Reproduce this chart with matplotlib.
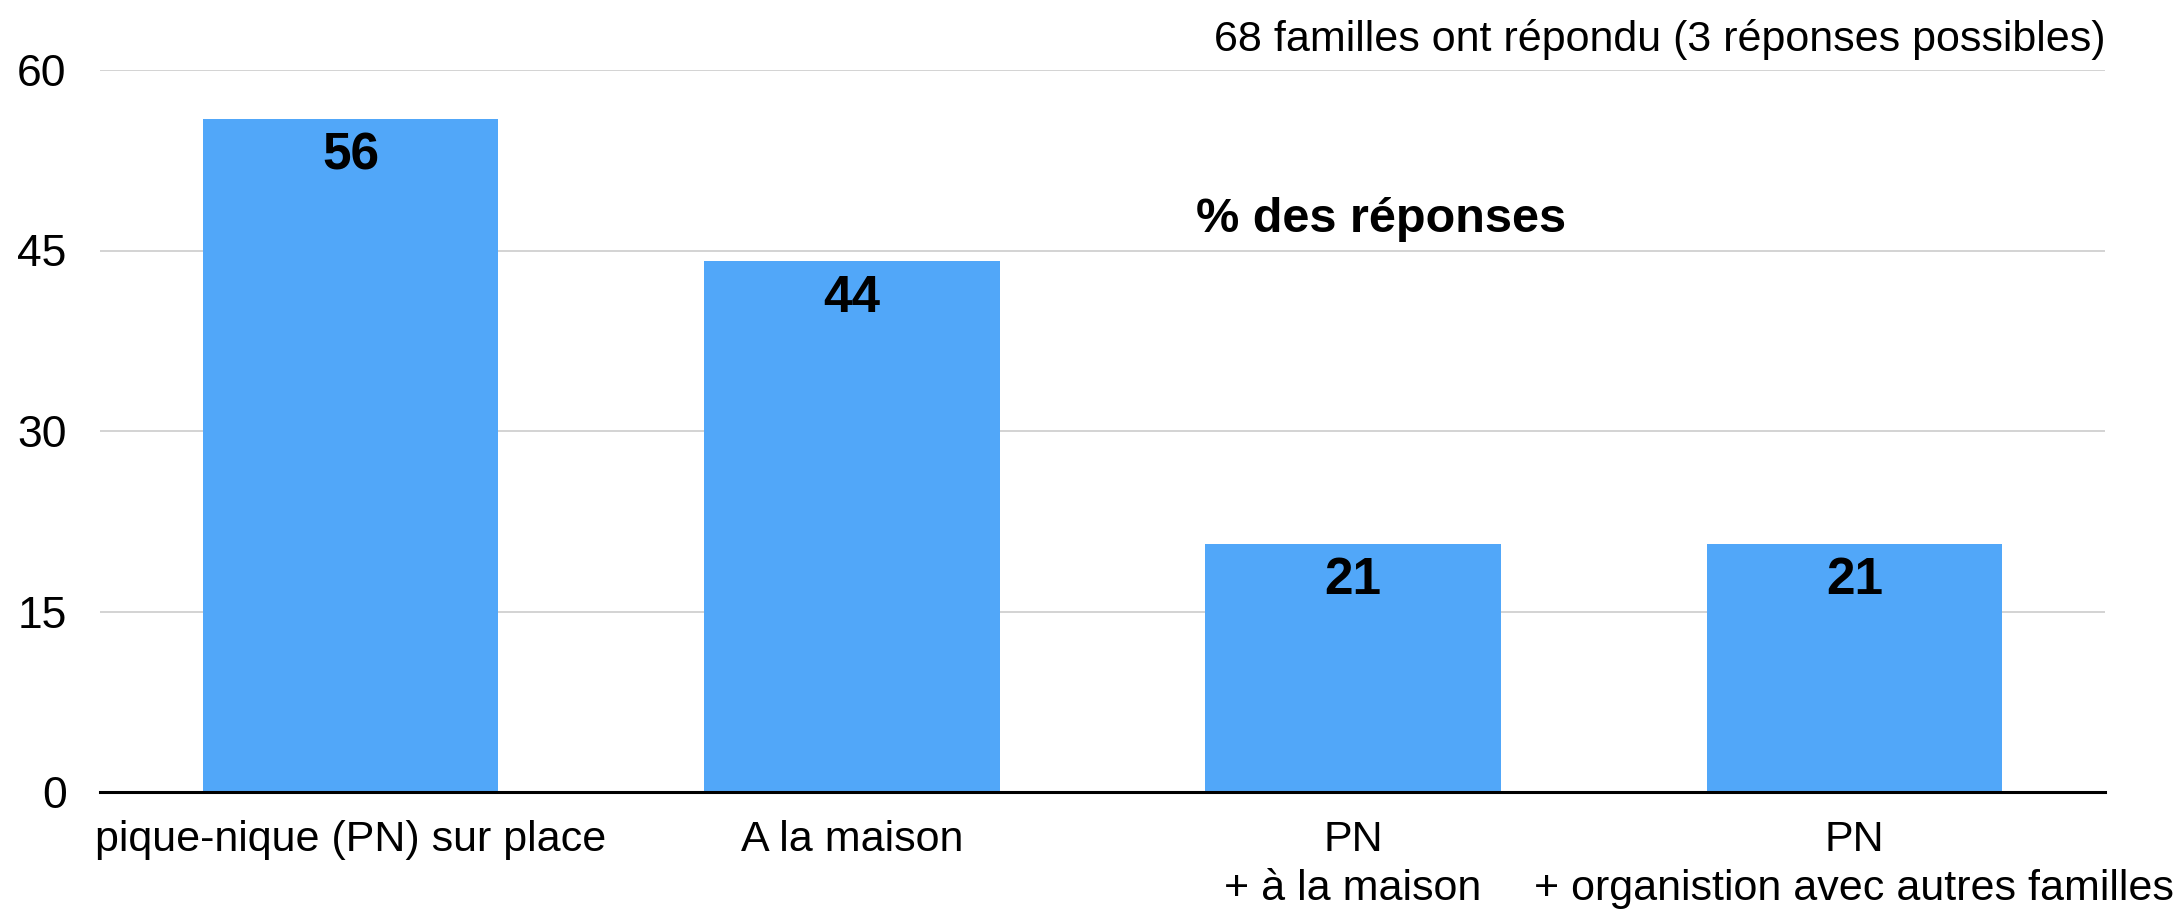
import matplotlib
matplotlib.use("Agg")
import matplotlib.pyplot as plt

categories = ["pique-nique (PN) sur place", "A la maison", "PN\n+ à la maison",
              "PN\n+ organistion avec autres familles"]
values = [55.9, 44.1, 20.6, 20.6]
value_labels = ["56", "44", "21", "21"]
yticks = [0, 15, 30, 45, 60]
title = "% des réponses"
note = "68 familles ont répondu (3 réponses possibles)"

plt.rcParams['font.family'] = ['Liberation Sans', 'DejaVu Sans']

W, H = 2179, 909
fig = plt.figure(figsize=(W / 100, H / 100), dpi=100)
left, right, bottom, top = 100, 2105, 792, 70
ax = fig.add_axes([left / W, 1 - bottom / H, (right - left) / W, (bottom - top) / H])

x = list(range(len(categories)))
ax.bar(x, values, width=0.59, color="#51A7F9", zorder=2)
ax.set_xlim(-0.5, len(categories) - 0.5)
ax.set_ylim(0, 60)
ax.set_yticks(yticks)
ax.set_yticklabels([str(t) for t in yticks])
ax.set_xticks(x)
ax.set_xticklabels(categories, linespacing=1.3)
ax.tick_params(axis="x", length=0, pad=20, labelsize=31)
ax.tick_params(axis="y", length=0, pad=24, labelsize=32)

for s in ["left", "right", "top"]:
    ax.spines[s].set_visible(False)
ax.spines["bottom"].set_linewidth(2.2)
ax.spines["bottom"].set_color("black")
ax.spines["bottom"].set_zorder(3)

for t in yticks[1:]:
    ax.axhline(t, color="#d3d3d3", linewidth=1.4, zorder=1)

for xi, v, lab in zip(x, values, value_labels):
    ax.annotate(lab, (xi, v), xytext=(0, -26.5), textcoords="offset points",
                ha="center", va="center", fontsize=37, fontweight="bold", color="black", zorder=4)

ax.text(0.639, 0.793, title, transform=ax.transAxes, ha="center", va="center",
        fontsize=35, fontweight="bold")
fig.text(2105 / W, 1 - 40 / H, note, ha="right", va="center", fontsize=31)

fig.savefig("out.png", dpi=100)
